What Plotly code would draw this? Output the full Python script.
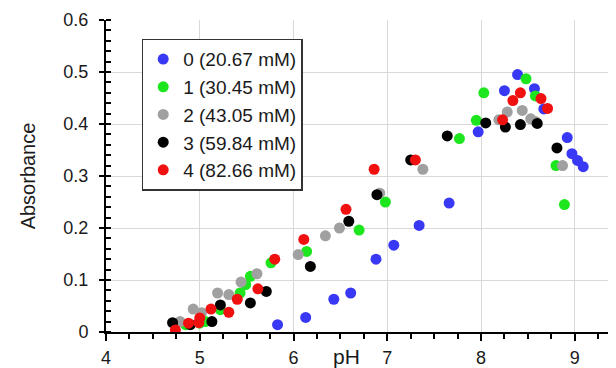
import plotly.graph_objects as go

names = ["0 (20.67 mM)", "1 (30.45 mM)", "2 (43.05 mM)", "3 (59.84 mM)", "4 (82.66 mM)"]
colors = ["#3838F5", "#1EE61E", "#A0A0A0", "#000000", "#F01010"]

ph0 = [5.83, 6.13, 6.43, 6.61, 6.88, 7.07, 7.34, 7.66, 7.97, 8.25, 8.39, 8.57, 8.67, 8.92, 8.97, 9.03, 9.09]
abs0 = [0.014, 0.028, 0.063, 0.075, 0.140, 0.167, 0.205, 0.248, 0.385, 0.464, 0.495, 0.468, 0.429, 0.374, 0.343, 0.330, 0.318]

ph1 = [4.85, 5.00, 5.06, 5.22, 5.43, 5.49, 5.54, 5.76, 6.14, 6.70, 6.98, 7.77, 7.95, 8.03, 8.48, 8.58, 8.80, 8.89]
abs1 = [0.014, 0.017, 0.020, 0.043, 0.075, 0.091, 0.107, 0.133, 0.155, 0.196, 0.250, 0.372, 0.407, 0.460, 0.487, 0.454, 0.320, 0.245]

ph2 = [4.79, 4.93, 5.02, 5.19, 5.31, 5.44, 5.61, 6.05, 6.34, 6.49, 6.92, 7.38, 8.19, 8.28, 8.44, 8.53, 8.58, 8.87]
abs2 = [0.020, 0.044, 0.037, 0.075, 0.072, 0.096, 0.112, 0.149, 0.185, 0.200, 0.267, 0.313, 0.408, 0.423, 0.426, 0.410, 0.405, 0.320]

ph3 = [4.71, 4.90, 5.13, 5.22, 5.54, 5.71, 6.18, 6.59, 6.89, 7.25, 7.64, 8.05, 8.26, 8.42, 8.60, 8.81]
abs3 = [0.018, 0.014, 0.020, 0.052, 0.056, 0.078, 0.126, 0.213, 0.264, 0.331, 0.377, 0.402, 0.394, 0.399, 0.401, 0.354]

ph4 = [4.74, 4.88, 4.99, 5.00, 5.12, 5.31, 5.40, 5.62, 5.80, 6.11, 6.56, 6.86, 7.30, 8.23, 8.34, 8.42, 8.64, 8.71]
abs4 = [0.004, 0.017, 0.018, 0.027, 0.044, 0.038, 0.063, 0.083, 0.140, 0.178, 0.236, 0.313, 0.331, 0.408, 0.445, 0.460, 0.449, 0.430]

xs = [ph0, ph1, ph2, ph3, ph4]
ys = [abs0, abs1, abs2, abs3, abs4]

FONT = "Liberation Sans, Arial, sans-serif"

fig = go.Figure()
for n, c, x, y in zip(names, colors, xs, ys):
    fig.add_trace(go.Scatter(x=x, y=y, mode="markers", name=n,
                             marker=dict(size=11, color=c, line=dict(width=0))))

# page body has an 8px default margin, so the figure is 608x360 placed at (8, 8)
fig.update_layout(
    width=608, height=360,
    margin=dict(l=98, r=0, t=12, b=36, autoexpand=False),
    paper_bgcolor="white", plot_bgcolor="white",
    font=dict(family=FONT, size=18, color="#1a1a1a"),
    showlegend=True,
    legend=dict(x=0.07, y=0.94, xanchor="left", yanchor="top",
                bordercolor="#333", borderwidth=1.5, bgcolor="white",
                font=dict(size=19, family=FONT, color="#1a1a1a"),
                itemwidth=30, tracegroupgap=0),
    xaxis=dict(range=[4, 9.44], tickvals=[4, 5, 6, 7, 8, 9],
               showgrid=True, gridcolor="#d9d9d9", gridwidth=1.2,
               showline=True, linecolor="black", linewidth=2,
               ticks="outside", ticklen=7, tickwidth=2, tickcolor="black",
               ticklabelstandoff=1,
               minor=dict(dtick=0.25, ticks="outside", ticklen=5, tickwidth=1.5, tickcolor="black", showgrid=False),
               zeroline=False),
    yaxis=dict(range=[0, 0.6], tickvals=[0, 0.1, 0.2, 0.3, 0.4, 0.5, 0.6],
               ticktext=["0", "0.1", "0.2", "0.3", "0.4", "0.5", "0.6"],
               showgrid=True, gridcolor="#d9d9d9", gridwidth=1.2,
               showline=True, linecolor="black", linewidth=2,
               ticks="outside", ticklen=5, tickwidth=2, tickcolor="black",
               ticklabelstandoff=7,
               minor=dict(dtick=0.02, ticks="inside", ticklen=5, tickwidth=1.5, tickcolor="black", showgrid=False),
               zeroline=False,
               title=dict(text="Absorbance", font=dict(size=20, family=FONT, color="#1a1a1a"), standoff=22)),
)

fig.add_annotation(x=6.56, xref="x", y=-0.08, yref="paper", yanchor="middle",
                   text="pH", showarrow=False, font=dict(size=21, family=FONT, color="#1a1a1a"))

fig.write_html("out.html")
